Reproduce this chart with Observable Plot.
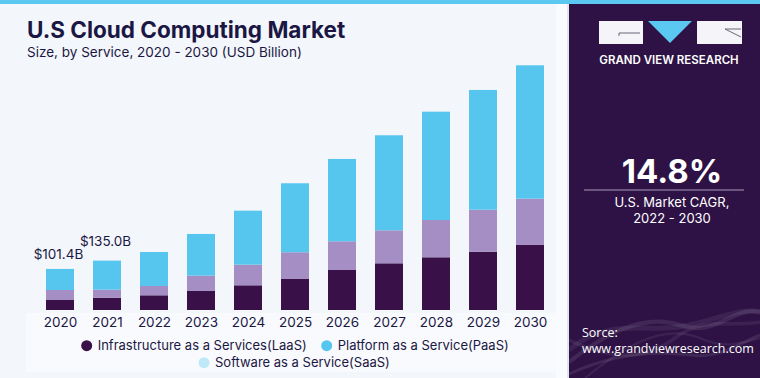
<!DOCTYPE html>
<html>
<head>
<meta charset="utf-8">
<script src="https://cdn.jsdelivr.net/npm/d3@7"></script>
<script src="https://cdn.jsdelivr.net/npm/@observablehq/plot@0.6"></script>
<style>
  html, body { margin: 0; padding: 0; }
  body { width: 760px; height: 378px; background: #f3f6fb; font-family: Inter, "Noto Sans", sans-serif; overflow: hidden; }
  #wrap { position: relative; width: 760px; height: 378px; }
  #deco { position: absolute; left: 0; top: 0; }
  #chart { position: absolute; left: 0; top: 0; }
  #over { position: absolute; left: 0; top: 0; }
</style>
</head>
<body>
<div id="wrap">
  <svg id="deco" width="760" height="378"></svg>
  <div id="chart"></div>
  <svg id="over" width="760" height="378"></svg>
</div>
<script>
// ---- data ----
const years = ["2020","2021","2022","2023","2024","2025","2026","2027","2028","2029","2030"];
const seriesNames = ["Infrastructure as a Services(LaaS)", "Software as a Service(SaaS)", "Platform as a Service(PaaS)"];
const iaas = [24.7, 30.4, 36.3, 47.0, 61.0, 76.6, 98.8, 115.3, 130.2, 144.0, 160.6];
const saas = [24.7, 19.8, 23.0, 37.8, 50.9, 66.0, 70.9, 81.5, 92.1, 103.7, 114.4];
const paas = [52.0, 71.7, 84.0, 103.0, 133.4, 170.4, 203.3, 234.7, 267.5, 295.7, 329.3];
const barColors = ["#3a1049", "#a48ec3", "#57c6ef"];
const legendOrder = ["Infrastructure as a Services(LaaS)", "Platform as a Service(PaaS)", "Software as a Service(SaaS)"];
const legendColors = ["#3a1049", "#57c6ef", "#bfe9f8"];
const labelYears = ["2020", "2021"];
const labelValues = [101.4, 135.0];
const labelTexts = ["$101.4B", "$135.0B"];

const rows = [];
[iaas, saas, paas].forEach((arr, s) => arr.forEach((v, i) => rows.push({year: years[i], series: seriesNames[s], value: v})));
const totals = years.map((y, i) => iaas[i] + saas[i] + paas[i]);
const labels = labelYears.map((y, i) => ({year: y, value: labelValues[i], text: labelTexts[i]}));

const ink = "#1b1744";

// ---- decoration (background, title, side panel) ----
const deco = d3.select("#deco");
deco.append("rect").attr("x", 26).attr("y", 313).attr("width", 531).attr("height", 59).attr("fill", "#f8fafd");
deco.append("rect").attr("x", 556).attr("y", 0).attr("width", 13).attr("height", 378).attr("fill", "#f9fbfe");
deco.append("rect").attr("x", 567.5).attr("y", 0).attr("width", 1).attr("height", 378).attr("fill", "#cfd2dc");
deco.append("rect").attr("x", 569).attr("y", 0).attr("width", 191).attr("height", 378).attr("fill", "#2e1245");
deco.append("rect").attr("x", 0).attr("y", 0).attr("width", 760).attr("height", 4).attr("fill", "#5ac8f0");

// waves
const waves = [
  "M569,350 C610,315 650,335 690,325 C720,318 740,308 760,312",
  "M569,362 C600,338 640,312 680,325 C715,338 735,305 760,312",
  "M569,340 C600,355 640,365 675,338 C705,315 735,328 760,322",
  "M569,374 C610,355 650,350 690,355 C720,360 745,340 760,335",
  "M585,378 C620,350 660,322 700,338 C725,350 745,342 760,338"
];
waves.forEach((d, i) => deco.append("path").attr("d", d).attr("fill", "none").attr("stroke", "#ffffff").attr("stroke-opacity", 0.07 + 0.02 * (i % 2)).attr("stroke-width", 5 - i * 0.7));

// logo
deco.append("rect").attr("x", 599).attr("y", 21).attr("width", 44).attr("height", 23).attr("fill", "#f5f4f8");
deco.append("path").attr("d", "M619,36 L619,33 L640,33").attr("fill", "none").attr("stroke", "#6a6478").attr("stroke-width", 1);
deco.append("path").attr("d", "M648,21 L692,21 L670,43 Z").attr("fill", "#5ac8f0");
deco.append("rect").attr("x", 697).attr("y", 21).attr("width", 45).attr("height", 23).attr("fill", "#f5f4f8");
deco.append("path").attr("d", "M741,29 L725,29 L741,37").attr("fill", "none").attr("stroke", "#6a6478").attr("stroke-width", 1);

const tx = (sel, x, y, t, size, weight, anchor, color, fam) =>
  sel.append("text").attr("x", x).attr("y", y).attr("font-size", size).attr("font-weight", weight)
    .attr("text-anchor", anchor).attr("fill", color).attr("font-family", fam || "Inter, sans-serif").text(t);

tx(deco, 27, 38, "U.S Cloud Computing Market", 22.5, 700, "start", ink);
tx(deco, 27, 57, "Size, by Service, 2020 - 2030 (USD Billion)", 13.5, 400, "start", ink);
tx(deco, 669, 64, "GRAND VIEW RESEARCH", 11.5, 600, "middle", "#ffffff");
tx(deco, 672, 183, "14.8%", 33, 700, "middle", "#ffffff");
deco.append("rect").attr("x", 584).attr("y", 189.5).attr("width", 160).attr("height", 1).attr("fill", "#a89cb8");
tx(deco, 672, 207, "U.S. Market CAGR,", 13, 400, "middle", "#ffffff");
tx(deco, 672, 223, "2022 - 2030", 13, 400, "middle", "#ffffff");
tx(deco, 582, 337, "Sorce:", 12.5, 400, "start", "#ffffff", "'Open Sans', sans-serif");
tx(deco, 582, 353, "www.grandviewresearch.com", 12.5, 400, "start", "#ffffff", "'Open Sans', sans-serif");

// ---- chart ----
const chart = Plot.plot({
  width: 566,
  height: 378,
  marginLeft: 0,
  marginRight: 0,
  marginTop: 65.3,
  marginBottom: 68,
  style: {background: "transparent", color: ink, fontFamily: "Inter, sans-serif", fontSize: "13.5px"},
  x: {domain: years, range: [23.5, 565.5], padding: 0.41, label: null, tickSize: 0, tickPadding: 7},
  y: {domain: [0, d3.max(totals)], axis: null},
  color: {domain: seriesNames, range: barColors},
  marks: [
    Plot.barY(rows, {x: "year", y: "value", fill: "series", order: seriesNames}),
    Plot.text(labels, {x: "year", y: "value", text: "text", dy: -10, lineAnchor: "bottom", fontSize: 13.5, fill: ink, dx: -2})
  ]
});
document.getElementById("chart").appendChild(chart);

// ---- legend ----
const over = d3.select("#over");
const legendPos = [[86.7, 345.7], [326.7, 345.7], [204, 362.7]];
legendOrder.forEach((name, i) => {
  const [cx, cy] = legendPos[i];
  over.append("circle").attr("cx", cx).attr("cy", cy).attr("r", 5.5).attr("fill", legendColors[i]);
  tx(over, cx + 11, cy + 4, name, 13, 400, "start", ink);
});
</script>
</body>
</html>
